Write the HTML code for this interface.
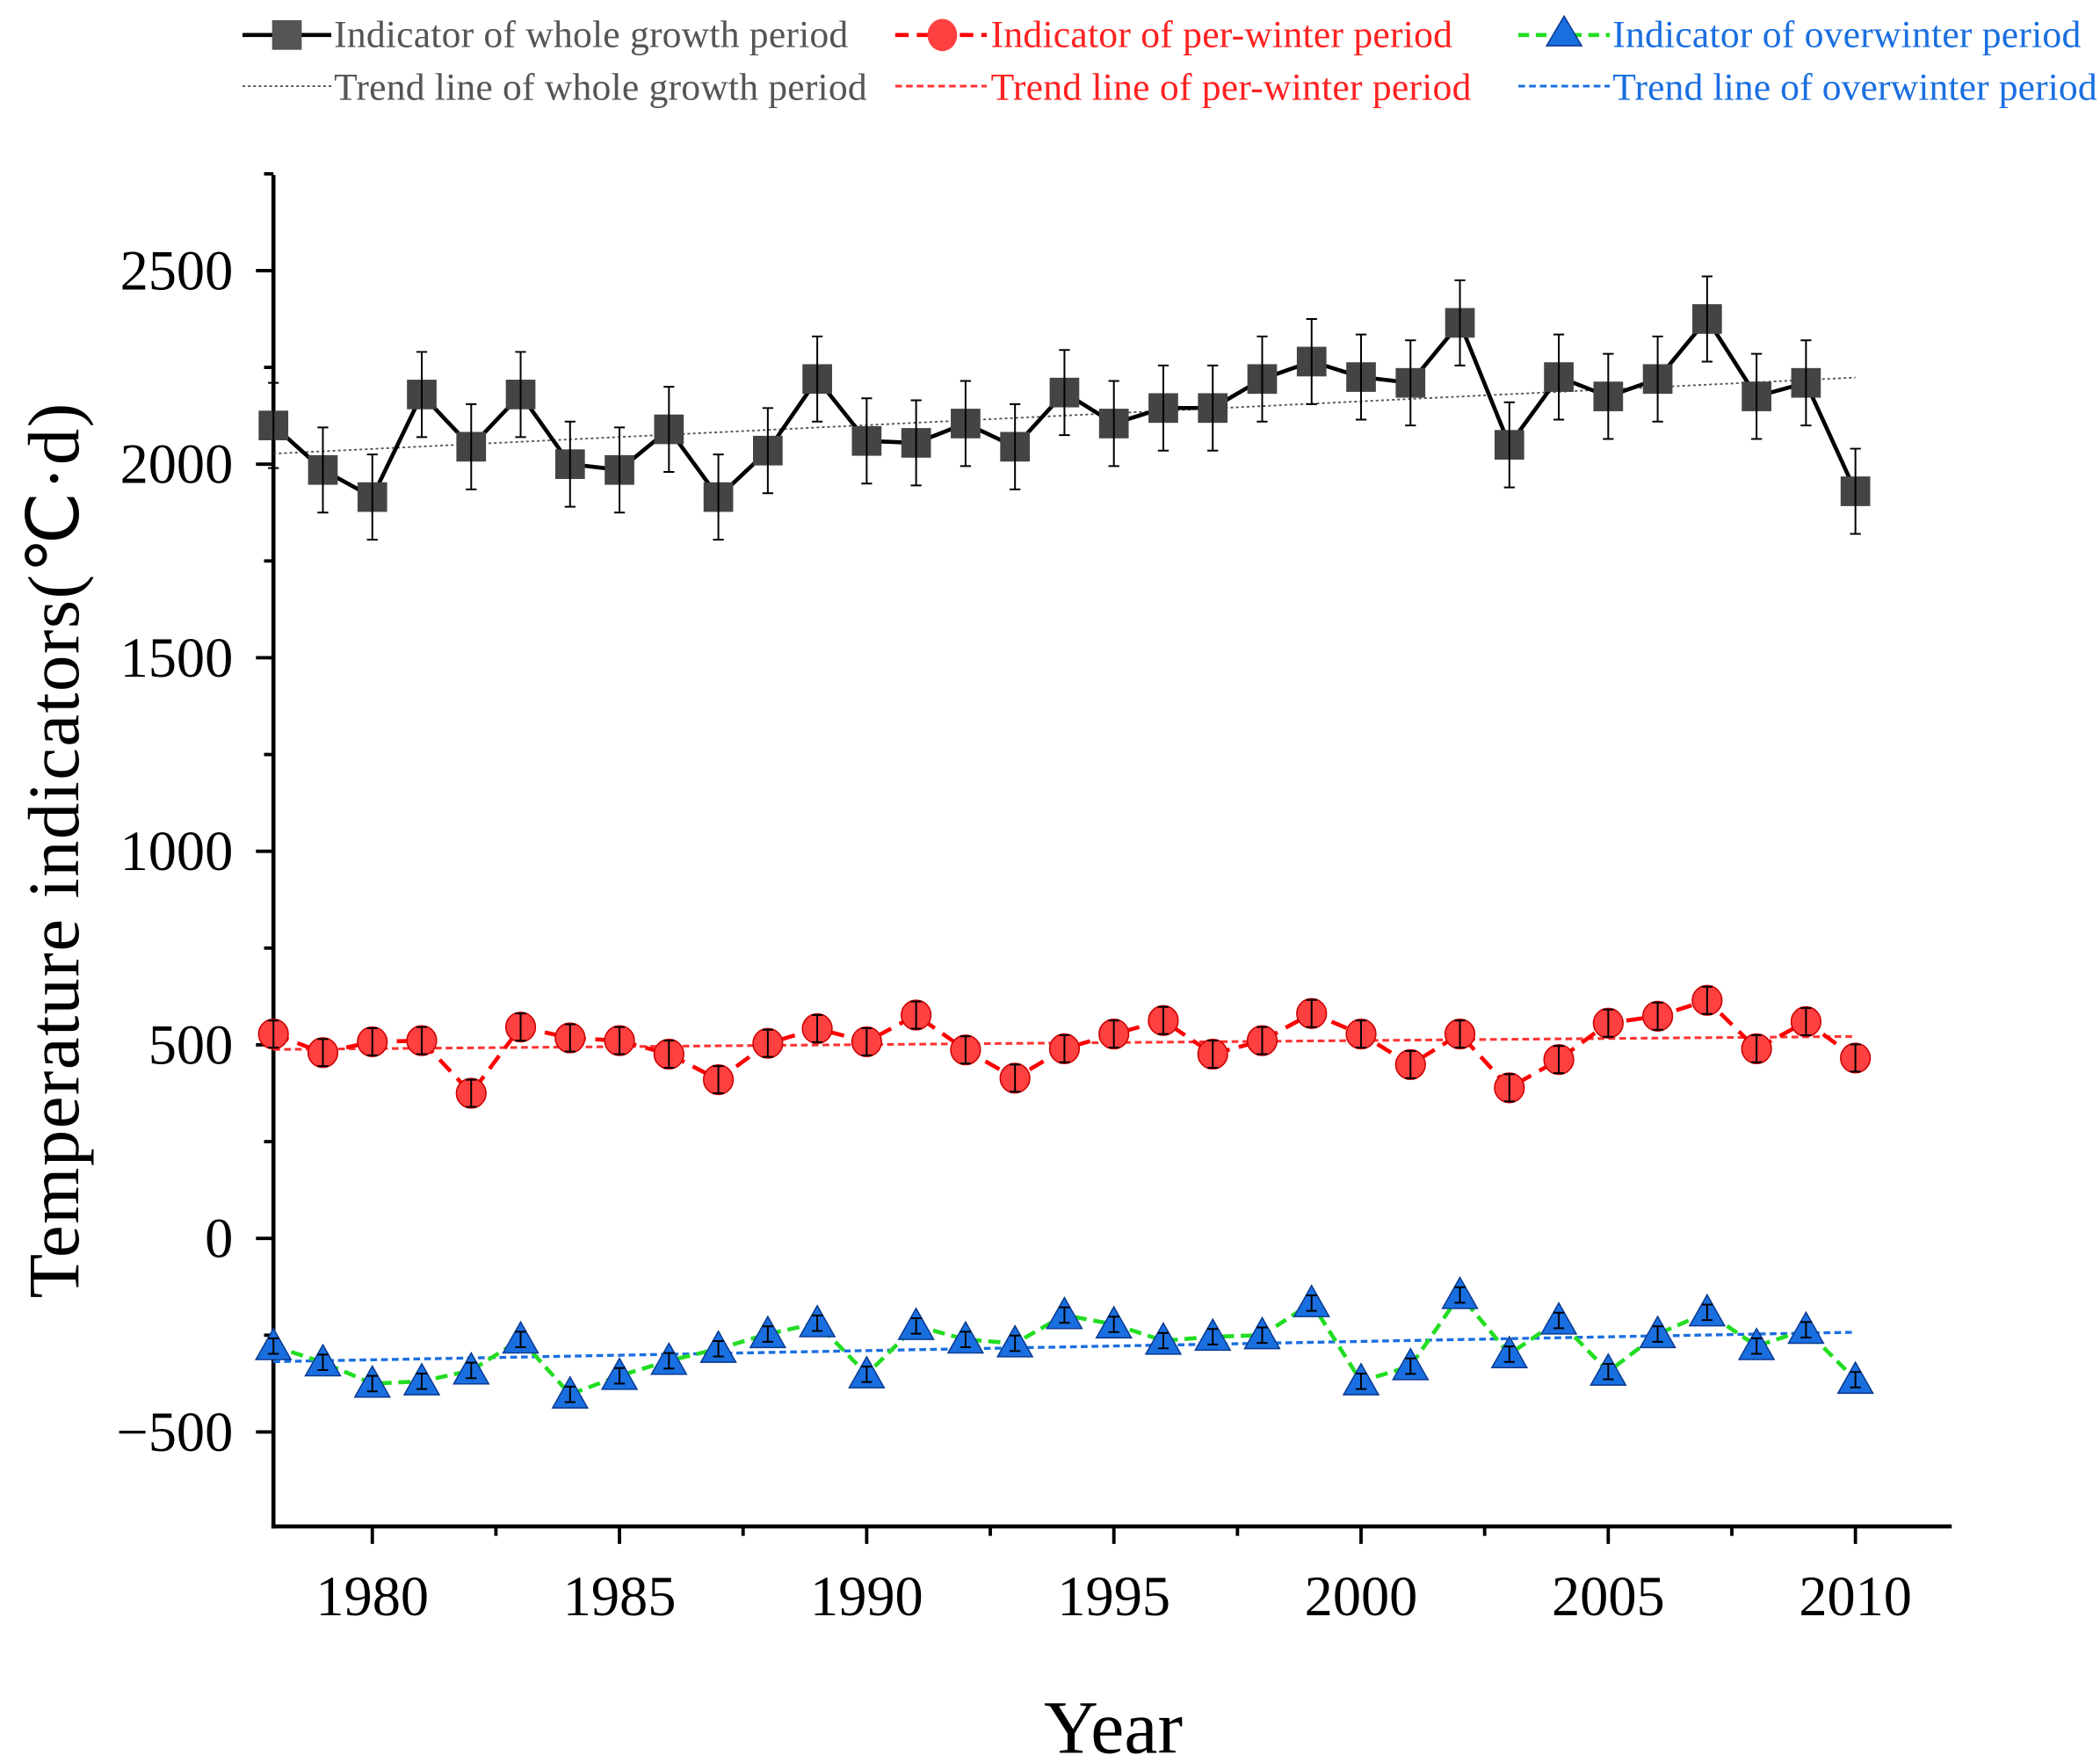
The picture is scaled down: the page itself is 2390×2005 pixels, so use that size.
<!DOCTYPE html>
<html><head><meta charset="utf-8"><style>
html,body{margin:0;padding:0;background:#fff}
svg{display:block}
text{font-family:"Liberation Serif",serif}
</style></head><body>
<svg id="chart" width="2390" height="2005" viewBox="0 0 1560 1309" xmlns="http://www.w3.org/2000/svg">
<g id="legend">
  <g>
    <line x1="180" y1="26" x2="246" y2="26" stroke="#000" stroke-width="3"/>
    <rect x="202" y="15" width="22" height="22" fill="#555"/>
    <text x="248" y="35" font-size="28.5" fill="#555" textLength="382">Indicator of whole growth period</text>
  </g>
  <g>
    <line x1="180" y1="64" x2="246" y2="64" stroke="#555" stroke-width="1.2" stroke-dasharray="2,2"/>
    <text x="248" y="74" font-size="28.5" fill="#555" textLength="396">Trend line of whole growth period</text>
  </g>
  <g>
    <line x1="665" y1="26" x2="733" y2="26" stroke="#f00" stroke-width="3" stroke-dasharray="10,6"/>
    <ellipse cx="700" cy="26" rx="11" ry="12" fill="#ff4040"/>
    <text x="736" y="35" font-size="28.5" fill="#ff2020" textLength="343">Indicator of per-winter period</text>
  </g>
  <g>
    <line x1="665" y1="64" x2="733" y2="64" stroke="#f33" stroke-width="2" stroke-dasharray="5,3"/>
    <text x="736" y="74" font-size="28.5" fill="#ff2020" textLength="357">Trend line of per-winter period</text>
  </g>
  <g>
    <line x1="1128" y1="26" x2="1196" y2="26" stroke="#2d2" stroke-width="3" stroke-dasharray="8,5"/>
    <polygon points="1162,12 1175,34 1149,34" fill="#1a6fe0" stroke="#0a3a90" stroke-width="1"/>
    <text x="1198" y="35" font-size="28.5" fill="#1a6fe0" textLength="348">Indicator of overwinter period</text>
  </g>
  <g>
    <line x1="1128" y1="64" x2="1196" y2="64" stroke="#1a6fe0" stroke-width="2" stroke-dasharray="5,3"/>
    <text x="1198" y="74" font-size="28.5" fill="#1a6fe0" textLength="360">Trend line of overwinter period</text>
  </g>
</g>
<g id="axes"></g>
<g id="plot"></g>
<text x="827" y="1302" font-size="56" text-anchor="middle" fill="#000">Year</text>
<text transform="translate(58,632) rotate(-90)" font-size="54" text-anchor="middle" fill="#000" textLength="665">Temperature indicators(℃·d)</text>
</svg>
<script>
const years = [];
for (let y = 1978; y <= 2010; y++) years.push(y);
const wholeValues = [2100,1985,1915,2180,2045,2180,2000,1985,2090,1915,2035,2220,2060,2055,2105,2045,2185,2105,2145,2145,2220,2265,2225,2210,2365,2050,2225,2175,2220,2375,2175,2210,1930];
const wholeErr = 110;
const perWinterValues = [528,480,508,511,375,546,518,511,476,410,504,542,508,577,487,414,490,528,563,476,511,581,528,449,528,389,462,556,574,615,490,560,466];
const perWinterErr = 35;
const overwinterValues = [-278,-320,-375,-369,-341,-261,-403,-355,-316,-285,-247,-219,-351,-226,-261,-271,-198,-222,-264,-254,-250,-167,-369,-330,-146,-299,-212,-344,-247,-191,-278,-236,-365];
const overwinterErr = 20;
const yTicks = [-500,0,500,1000,1500,2000,2500];
const xTicks = [1980,1985,1990,1995,2000,2005,2010];

const NS = "http://www.w3.org/2000/svg";
const X0 = 203, X1 = 1450, Y0 = 1134, Y1 = 130;
const xMin = 1978, xMax = 1978 + (X1 - X0) / 36.733;
const yMin = -744, yMax = 2747;
const xs = v => X0 + (v - xMin) / (xMax - xMin) * (X1 - X0);
const ys = v => Y0 - (v - yMin) / (yMax - yMin) * (Y0 - Y1);
function mk(tag, attrs, parent) {
  const e = document.createElementNS(NS, tag);
  for (const k in attrs) e.setAttribute(k, attrs[k]);
  parent.appendChild(e);
  return e;
}
const axes = document.getElementById('axes');
const plot = document.getElementById('plot');

let a = mk('line', {x1:X0,y1:Y1,x2:X0,y2:Y0+1.5,stroke:'#000','stroke-width':3}, axes);


a = mk('line', {x1:X0-1.5,y1:Y0,x2:X1,y2:Y0,stroke:'#000','stroke-width':3}, axes);



yTicks.forEach(v => {
  const y = ys(v);
  const t = mk('line', {x1:X0-13,y1:y,x2:X0,y2:y,stroke:'#000','stroke-width':2.5}, axes);
  
  
  const m = mk('line', {x1:X0-7,y1:ys(v+250),x2:X0,y2:ys(v+250),stroke:'#000','stroke-width':2.5}, axes);
  
  
  const l = mk('text', {x:X0-30,y:y+14,'font-size':42,'text-anchor':'end',fill:'#000'}, axes);
  l.textContent = v < 0 ? '\u2212' + Math.abs(v) : String(v);
  
  
});
xTicks.forEach(v => {
  const x = xs(v);
  const t = mk('line', {x1:x,y1:Y0,x2:x,y2:Y0+13,stroke:'#000','stroke-width':2.5}, axes);
  
  
  const l = mk('text', {x:x,y:Y0+66,'font-size':42,'text-anchor':'middle',fill:'#000'}, axes);
  l.textContent = String(v);
  
  
});
[1982.5,1987.5,1992.5,1997.5,2002.5,2007.5].forEach(v => {
  const m = mk('line', {x1:xs(v),y1:Y0,x2:xs(v),y2:Y0+7,stroke:'#000','stroke-width':2.5}, axes);
  
  
});

function trend(vals, color, dash, width, name) {
  const n = years.length;
  const mx = years.reduce((s,v)=>s+v,0)/n, my = vals.reduce((s,v)=>s+v,0)/n;
  let sxy=0, sxx=0;
  years.forEach((x,i)=>{sxy+=(x-mx)*(vals[i]-my); sxx+=(x-mx)*(x-mx);});
  const b = sxy/sxx, c = my - b*mx;
  const l = mk('line', {x1:xs(years[0]),y1:ys(c+b*years[0]),x2:xs(years[n-1]),y2:ys(c+b*years[n-1]),stroke:color,'stroke-width':width,'stroke-dasharray':dash}, plot);
  
  
}
function series(vals, err, lineColor, dash, name, marker) {
  const g = mk('g', {}, plot);
  
  
  const pts = vals.map((v,i)=>xs(years[i]).toFixed(1)+','+ys(v).toFixed(1)).join(' ');
  const pl = mk('polyline', {points:pts,fill:'none',stroke:lineColor,'stroke-width':3,'stroke-dasharray':dash,'stroke-linejoin':'round'}, g);
  
  
  vals.forEach((v,i) => {
    const x = xs(years[i]), y = ys(v);
    marker(g, x, y, years[i]);
    const eb = mk('path', {d:`M${x-4},${ys(v+err)}H${x+4}M${x},${ys(v+err)}V${ys(v-err)}M${x-4},${ys(v-err)}H${x+4}`,stroke:'#000','stroke-width':1.3,fill:'none'}, g);
    
    
  });
}
trend(wholeValues, '#555', '2,2', 1.2, 'whole-trend-line');
trend(perWinterValues, '#f33', '5,3', 2, 'perwinter-trend-line');
trend(overwinterValues, '#1a6fe0', '5,3', 2.2, 'overwinter-trend-line');

series(wholeValues, wholeErr, '#000', 'none', 'whole', (g,x,y,yr) => {
  const r = mk('rect', {x:x-11,y:y-11,width:22,height:22,fill:'#444'}, g);
  
  
});
series(perWinterValues, perWinterErr, '#f00', '12,7', 'perwinter', (g,x,y,yr) => {
  const c = mk('circle', {cx:x,cy:y,r:11,fill:'#ff4040',stroke:'#c00','stroke-width':1}, g);
  
  
});
series(overwinterValues, overwinterErr, '#22dd22', '9,5', 'overwinter', (g,x,y,yr) => {
  const p = mk('polygon', {points:`${x},${y-13} ${x+13},${y+10} ${x-13},${y+10}`,fill:'#1a6fe0',stroke:'#0a3a90','stroke-width':1}, g);
  
  
});
</script>
</body></html>
